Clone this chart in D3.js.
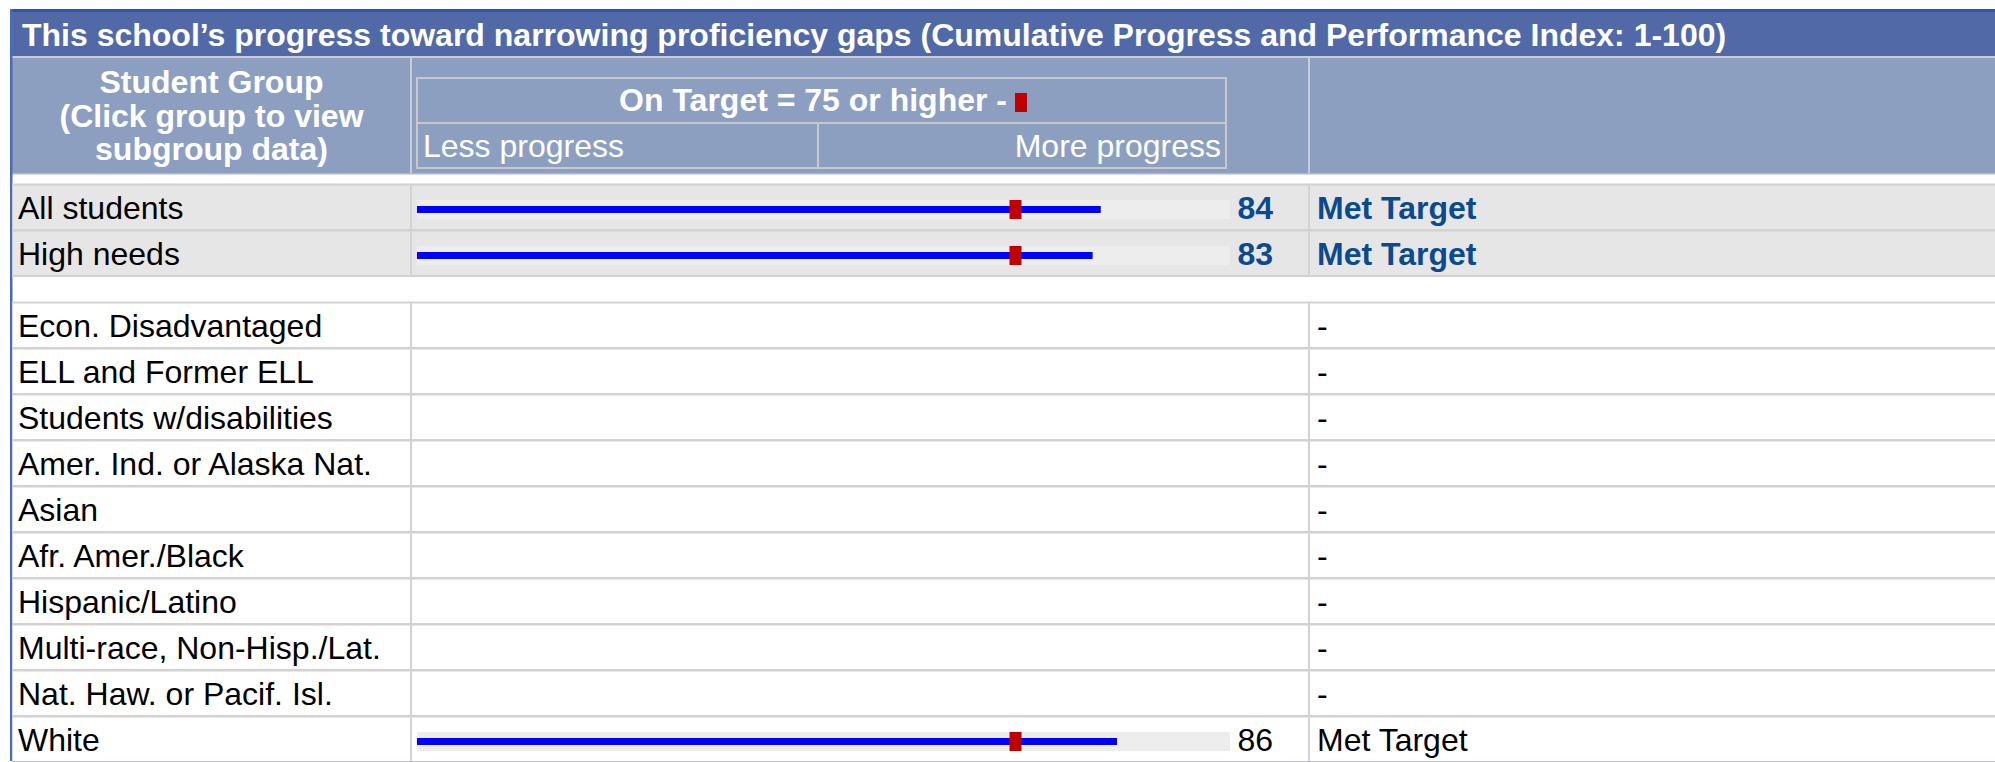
<!DOCTYPE html>
<html>
<head>
<meta charset="utf-8">
<script src="https://cdn.jsdelivr.net/npm/d3@7"></script>
<style>
  html, body { margin: 0; padding: 0; background: #ffffff; }
  svg { display: block; font-family: "Liberation Sans", Arial, sans-serif; }
</style>
</head>
<body>
<svg id="chart" width="1995" height="762"></svg>
<script>
// ---------- DATA ----------
const title = "This school\u2019s progress toward narrowing proficiency gaps (Cumulative Progress and Performance Index: 1-100)";
const headerGroup = ["Student Group", "(Click group to view", "subgroup data)"];
const legendText = "On Target = 75 or higher -";
const scaleLabels = ["Less progress", "More progress"];
const mainGroups = ["All students", "High needs"];
const mainValues = [84, 83];
const mainStatus = ["Met Target", "Met Target"];
const subGroups = ["Econ. Disadvantaged", "ELL and Former ELL", "Students w/disabilities",
  "Amer. Ind. or Alaska Nat.", "Asian", "Afr. Amer./Black", "Hispanic/Latino",
  "Multi-race, Non-Hisp./Lat.", "Nat. Haw. or Pacif. Isl.", "White"];
const subValues = [null, null, null, null, null, null, null, null, null, 86];
const subStatus = ["-", "-", "-", "-", "-", "-", "-", "-", "-", "Met Target"];
const target = 75;
const indexDomain = [0, 100];

// ---------- LAYOUT ----------
const W = 1995;
const L = 12;              // table left
const col1 = 411, col2 = 1309;
const titleTop = 12, titleBot = 56, headTop = 58, headBot = 173;
const rowH = 46;
const mainTop = 184;
const subTop = mainTop + 2 * rowH + 26;
const fontSize = 32;
const blueText = "#0b4a8c";

const svg = d3.select("#chart");
const x = d3.scaleLinear().domain(indexDomain).range([417, 1231]);

// top border + title bar
svg.append("rect").attr("x", L - 2).attr("y", 9).attr("width", W - L + 2).attr("height", 3).attr("fill", "#2f55ad");
svg.append("rect").attr("x", L).attr("y", titleTop).attr("width", W - L).attr("height", titleBot - titleTop).attr("fill", "#516aa7");
svg.append("rect").attr("x", L).attr("y", titleBot).attr("width", W - L).attr("height", headTop - titleBot).attr("fill", "#c9ccd4");
svg.append("text").attr("x", 22).attr("y", 46).attr("fill", "#fff").attr("font-weight", "bold")
  .attr("font-size", fontSize).text(title);

// header
svg.append("rect").attr("x", L).attr("y", headTop).attr("width", W - L).attr("height", headBot - headTop).attr("fill", "#8d9fc1");
svg.append("rect").attr("x", L).attr("y", headBot).attr("width", W - L).attr("height", 1.5).attr("fill", "#aeb8cf");
[col1, col2].forEach(cx => svg.append("rect").attr("x", cx - 1).attr("y", headTop).attr("width", 2)
  .attr("height", headBot - headTop).attr("fill", "#c8ccd6"));
headerGroup.forEach((t, i) => svg.append("text").attr("x", (L + col1) / 2).attr("y", 93 + i * 33.5)
  .attr("text-anchor", "middle").attr("fill", "#fff").attr("font-weight", "bold").attr("font-size", fontSize).text(t));

// inner legend box
const box = { x0: x(0), x1: 1226, y0: 78, ym: 123, y1: 168, split: 818 };
const boxG = svg.append("g").attr("stroke", "#c8c8c8").attr("stroke-width", 2).attr("fill", "none");
boxG.append("rect").attr("x", box.x0).attr("y", box.y0).attr("width", box.x1 - box.x0).attr("height", box.y1 - box.y0);
boxG.append("line").attr("x1", box.x0).attr("x2", box.x1).attr("y1", box.ym).attr("y2", box.ym);
boxG.append("line").attr("x1", box.split).attr("x2", box.split).attr("y1", box.ym).attr("y2", box.y1);
svg.append("text").attr("x", 1007).attr("y", 111).attr("text-anchor", "end")
  .attr("fill", "#fff").attr("font-weight", "bold").attr("font-size", fontSize).text(legendText);
svg.append("rect").attr("x", 1015).attr("y", 93).attr("width", 12).attr("height", 19).attr("fill", "#c00000");
svg.append("text").attr("x", box.x0 + 6).attr("y", 157).attr("fill", "#fff").attr("font-size", fontSize).text(scaleLabels[0]);
svg.append("text").attr("x", box.x1 - 5).attr("y", 157).attr("text-anchor", "end").attr("fill", "#fff")
  .attr("font-size", fontSize).text(scaleLabels[1]);

// left border
svg.append("rect").attr("x", L - 2).attr("y", 9).attr("width", 2.5).attr("height", 752).attr("fill", "#4a6cb8");

// rows
const rows = [];
mainGroups.forEach((g, i) => rows.push({ label: g, value: mainValues[i], status: mainStatus[i], top: mainTop + i * rowH, main: true }));
subGroups.forEach((g, i) => rows.push({ label: g, value: subValues[i], status: subStatus[i], top: subTop + i * rowH, main: false }));

const rowG = svg.selectAll("g.row").data(rows).join("g").attr("class", "row")
  .attr("transform", d => `translate(0,${d.top})`);
rowG.append("rect").attr("x", L + 0.5).attr("y", 0).attr("width", W - L).attr("height", rowH)
  .attr("fill", d => d.main ? "#e6e6e6" : "#ffffff");
rowG.append("line").attr("x1", L).attr("x2", W).attr("y1", 0.5).attr("y2", 0.5).attr("stroke", "#d2d2d2").attr("stroke-width", 2);
rowG.append("line").attr("x1", L).attr("x2", W).attr("y1", rowH).attr("y2", rowH).attr("stroke", "#d2d2d2").attr("stroke-width", 2);
[col1, col2].forEach(cx => rowG.append("line").attr("x1", cx).attr("x2", cx).attr("y1", 0).attr("y2", rowH)
  .attr("stroke", "#d2d2d2").attr("stroke-width", 2));
rowG.append("text").attr("x", 18).attr("y", rowH / 2 + 11.5).attr("font-size", fontSize).attr("fill", "#000").text(d => d.label);

const withVal = rowG.filter(d => d.value != null);
withVal.append("rect").attr("x", x(0)).attr("y", 16).attr("width", x(100) - x(0) - 1).attr("height", 19).attr("fill", "#ededed");
withVal.append("rect").attr("x", x(0)).attr("y", 22).attr("width", d => x(d.value) - x(0)).attr("height", 7).attr("fill", "#0000ff");
withVal.append("rect").attr("x", x(target) - 18).attr("y", 16).attr("width", 12).attr("height", 19).attr("fill", "#c00000");
withVal.append("text").attr("x", 1273).attr("y", rowH / 2 + 11.5).attr("text-anchor", "end").attr("font-size", fontSize)
  .attr("font-weight", d => d.main ? "bold" : "normal").attr("fill", d => d.main ? blueText : "#000").text(d => d.value);
rowG.append("text").attr("x", 1317).attr("y", rowH / 2 + 11.5).attr("font-size", fontSize)
  .attr("font-weight", d => d.main ? "bold" : "normal").attr("fill", d => d.main ? blueText : "#000").text(d => d.status);

// bottom edge
svg.append("rect").attr("x", L).attr("y", subTop + subGroups.length * rowH - 1).attr("width", W - L).attr("height", 2).attr("fill", "#b4c0d4");
</script>
</body>
</html>
